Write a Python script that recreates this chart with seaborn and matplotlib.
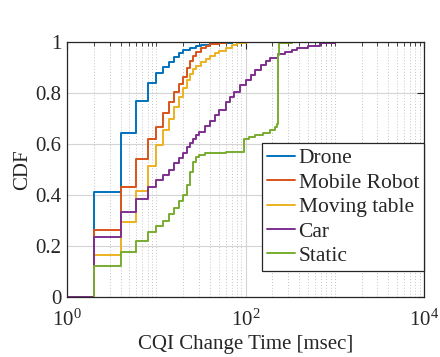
import numpy as np
import pandas as pd
import matplotlib
matplotlib.use("Agg")
import matplotlib.pyplot as plt
from matplotlib.ticker import LogLocator, FixedLocator, NullFormatter
import seaborn as sns

# ---- data ----
drone_t = [1, 2, 4, 6, 8, 10, 12, 14, 16, 18, 20, 24, 28, 32, 40, 50, 70, 10000]
drone_c = [0, 0.41, 0.645, 0.77, 0.84, 0.877, 0.903, 0.923, 0.94, 0.955, 0.967, 0.978, 0.985, 0.99, 0.995, 0.998, 1.0, 1.0]

robot_t = [1, 2, 4, 6, 8, 10, 12, 14, 16, 18, 20, 22, 24, 26, 28, 32, 36, 40, 50, 60, 10000]
robot_c = [0, 0.263, 0.433, 0.543, 0.618, 0.667, 0.72, 0.765, 0.805, 0.837, 0.864, 0.9, 0.925, 0.945, 0.96, 0.975, 0.985, 0.992, 0.997, 1.0, 1.0]

table_t = [1, 2, 4, 6, 8, 10, 12, 14, 16, 18, 20, 22, 24, 26, 28, 32, 36, 40, 45, 50, 60, 70, 80, 100, 10000]
table_c = [0, 0.165, 0.295, 0.415, 0.515, 0.596, 0.655, 0.70, 0.746, 0.786, 0.818, 0.85, 0.875, 0.893, 0.905, 0.922, 0.935, 0.945, 0.955, 0.965, 0.978, 0.988, 0.995, 1.0, 1.0]

car_t = [1, 2, 4, 6, 8, 10, 12, 14, 16, 18, 20, 22, 24, 26, 28, 30, 35, 40, 45, 50, 60, 67, 75, 87, 100, 115, 128, 150, 170, 188, 230, 277, 330, 378, 500, 684, 1000, 1300, 10000]
car_c = [0, 0.235, 0.332, 0.383, 0.43, 0.457, 0.478, 0.50, 0.524, 0.544, 0.566, 0.587, 0.605, 0.62, 0.635, 0.648, 0.67, 0.69, 0.715, 0.735, 0.765, 0.785, 0.805, 0.83, 0.85, 0.87, 0.89, 0.91, 0.925, 0.936, 0.952, 0.962, 0.97, 0.976, 0.986, 0.995, 0.999, 1.0, 1.0]

static_t = [2, 2.0001, 4, 6, 8, 10, 12, 14, 16, 18, 20, 22, 24, 26, 28, 30, 35, 40, 60, 88, 95, 110, 128, 157, 188, 214, 226, 230, 234, 238, 330, 10000]
static_c = [0, 0.123, 0.177, 0.22, 0.253, 0.277, 0.30, 0.325, 0.35, 0.375, 0.40, 0.44, 0.49, 0.53, 0.55, 0.557, 0.563, 0.566, 0.568, 0.57, 0.62, 0.628, 0.635, 0.645, 0.655, 0.665, 0.68, 0.80, 0.95, 0.995, 1.0, 1.0]

names = ["Drone", "Mobile Robot", "Moving table", "Car", "Static"]
colors = ["#0072BD", "#D95319", "#EDB120", "#7E2F8E", "#77AC30"]
series = [(drone_t, drone_c), (robot_t, robot_c), (table_t, table_c), (car_t, car_c), (static_t, static_c)]

frames = []
for n, (t, c) in zip(names, series):
    frames.append(pd.DataFrame({"t": t, "cdf": c, "series": n}))
df = pd.concat(frames, ignore_index=True)

# ---- style ----
sns.set_style("white")
plt.rcParams["font.family"] = ["Liberation Serif", "DejaVu Serif"]
plt.rcParams["mathtext.fontset"] = "custom"
plt.rcParams["mathtext.rm"] = "Liberation Serif"
plt.rcParams["mathtext.it"] = "Liberation Serif:italic"

fig = plt.figure(figsize=(4.4, 3.57), dpi=100)
ax = fig.add_axes([67 / 440, 1 - 297 / 357, (424 - 67) / 440, (297 - 42) / 357])

sns.lineplot(data=df, x="t", y="cdf", hue="series", hue_order=names,
             palette=dict(zip(names, colors)), drawstyle="steps-post",
             estimator=None, sort=False, linewidth=1.4, ax=ax, legend=True)

ax.set_xscale("log")
ax.set_xlim(1, 1e4)
ax.set_ylim(0, 1)
ax.xaxis.set_major_locator(FixedLocator([1, 100, 10000]))
ax.xaxis.set_minor_locator(LogLocator(base=10, subs=np.arange(1, 10), numticks=20))
ax.xaxis.set_minor_formatter(NullFormatter())
ax.set_yticks([0, 0.2, 0.4, 0.6, 0.8, 1.0])
ax.set_yticklabels(["0", "0.2", "0.4", "0.6", "0.8", "1"])
ax.set_xticklabels([r"$\mathdefault{10^{0}}$", r"$\mathdefault{10^{2}}$", r"$\mathdefault{10^{4}}$"])

ax.grid(which="major", color="#d4d4d4", linewidth=0.8, linestyle="-")
ax.grid(which="minor", axis="x", color="#c4c4c4", linewidth=0.7, linestyle=(0, (1, 2)))
ax.set_axisbelow(True)

ax.tick_params(which="both", direction="in", top=True, right=True, colors="#262626",
               labelsize=15, labelcolor="#262626")
ax.tick_params(which="major", length=5, width=0.8)
ax.tick_params(which="minor", length=3, width=0.6)
ax.tick_params(axis="x", pad=9)
ax.tick_params(axis="y", pad=4)
for s in ax.spines.values():
    s.set_color("#262626")
    s.set_linewidth(0.9)
    s.set_visible(True)

ax.set_xlabel("CQI Change Time [msec]", fontsize=15, color="#262626", labelpad=3)
ax.set_ylabel("CDF", fontsize=15, color="#262626", labelpad=2)

handles, labels = ax.get_legend_handles_labels()
leg = ax.legend(handles, labels, loc="upper left", bbox_to_anchor=(0.546, 0.604),
                fontsize=15.5, frameon=True, fancybox=False, edgecolor="#262626",
                framealpha=1, handlelength=1.3, handletextpad=0.15, labelspacing=0.2,
                borderpad=0.25, borderaxespad=0)
leg.get_frame().set_linewidth(0.9)
for txt in leg.get_texts():
    txt.set_color("#262626")

fig.savefig("out.png", dpi=100)
